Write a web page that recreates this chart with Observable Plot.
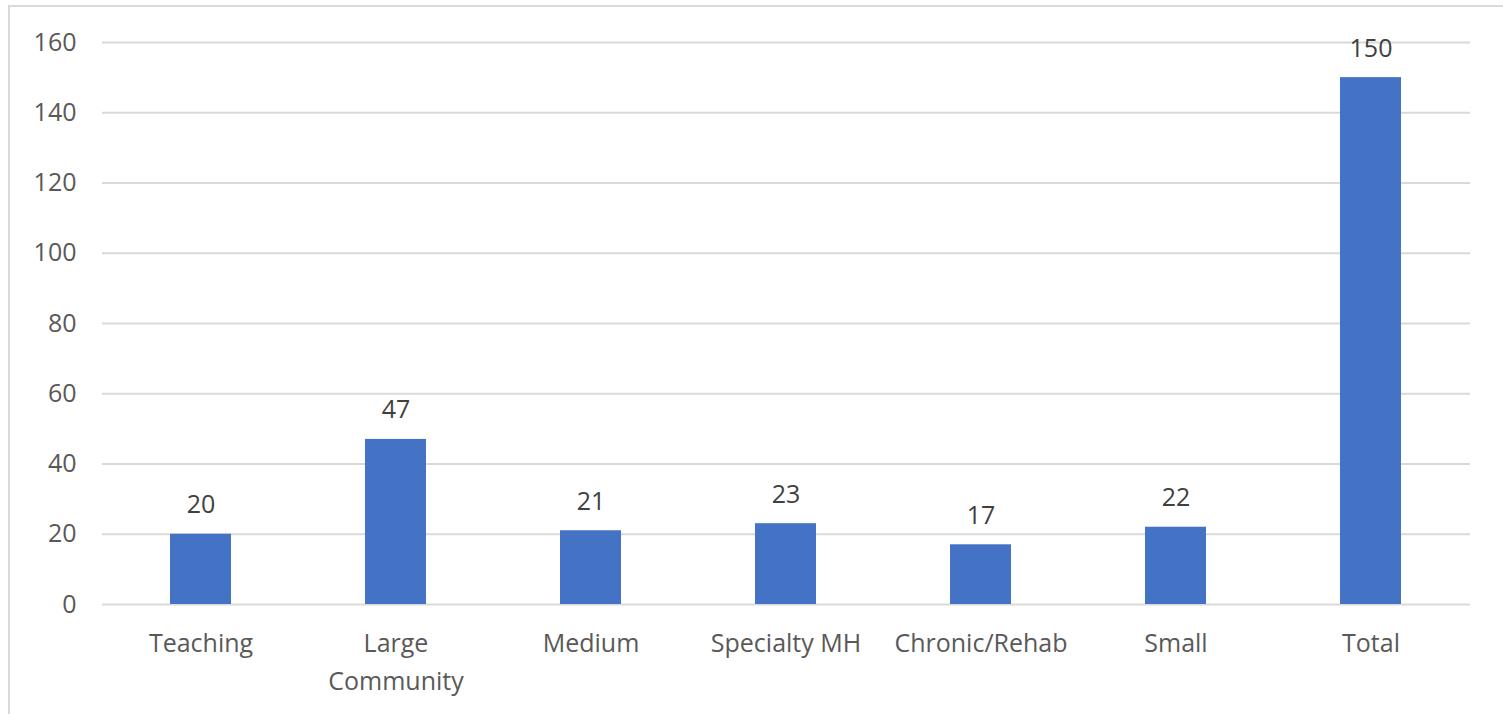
<!DOCTYPE html>
<html>
<head>
<meta charset="utf-8">
<script src="https://cdn.jsdelivr.net/npm/d3@7"></script>
<script src="https://cdn.jsdelivr.net/npm/@observablehq/plot@0.6"></script>
<style>
  html, body { margin: 0; padding: 0; background: #fff; }
  #chart { position: relative; width: 1503px; height: 714px; overflow: hidden; }
  #chart .edge { position: absolute; left: 8px; top: 5px; right: -10px; bottom: -10px;
    border-top: 2.5px solid #d9d9d9; border-left: 2.5px solid #d9d9d9; pointer-events: none; }
  #chart svg { position: absolute; left: 0; top: 0; }
</style>
</head>
<body>
<div id="chart"><div class="edge"></div></div>
<script>
// Hospital groups and counts per group
const categories = ["Teaching", "Large Community", "Medium", "Specialty MH", "Chronic/Rehab", "Small", "Total"];
const counts = [20, 47, 21, 23, 17, 22, 150];
const categoryLabels = ["Teaching", "Large\nCommunity", "Medium", "Specialty MH", "Chronic/Rehab", "Small", "Total"];
const yTicks = [0, 20, 40, 60, 80, 100, 120, 140, 160];

const rows = categories.map((c, i) => ({category: c, count: counts[i]}));
const labelOf = new Map(categories.map((c, i) => [c, categoryLabels[i]]));

const font = "'Open Sans', 'Noto Sans', sans-serif";

const chart = Plot.plot({
  width: 1503,
  height: 714,
  marginLeft: 102,
  marginRight: 33,
  marginTop: 42,
  marginBottom: 110,
  style: {fontFamily: font, fontSize: "25px", background: "transparent", overflow: "visible"},
  x: {domain: categories, paddingInner: 0.685, paddingOuter: 0.3425, label: null},
  y: {domain: [0, 160], label: null},
  marks: [
    Plot.gridY(yTicks, {stroke: "#d9d9d9", strokeOpacity: 1, strokeWidth: 2}),
    Plot.axisY(yTicks, {tickSize: 0, tickPadding: 26, fill: "#595959", fontSize: 25, label: null}),
    Plot.axisX({tickSize: 0, tickPadding: 21, fill: "#595959", fontSize: 25, lineHeight: 1.5,
      tickFormat: (d) => labelOf.get(d), label: null}),
    Plot.barY(rows, {x: "category", y: "count", fill: "#4472C4"}),
    Plot.text(rows, {x: "category", y: "count", text: (d) => String(d.count),
      lineAnchor: "bottom", dy: -21, fill: "#404040", fontSize: 25})
  ]
});

document.getElementById("chart").appendChild(chart);
</script>
</body>
</html>
